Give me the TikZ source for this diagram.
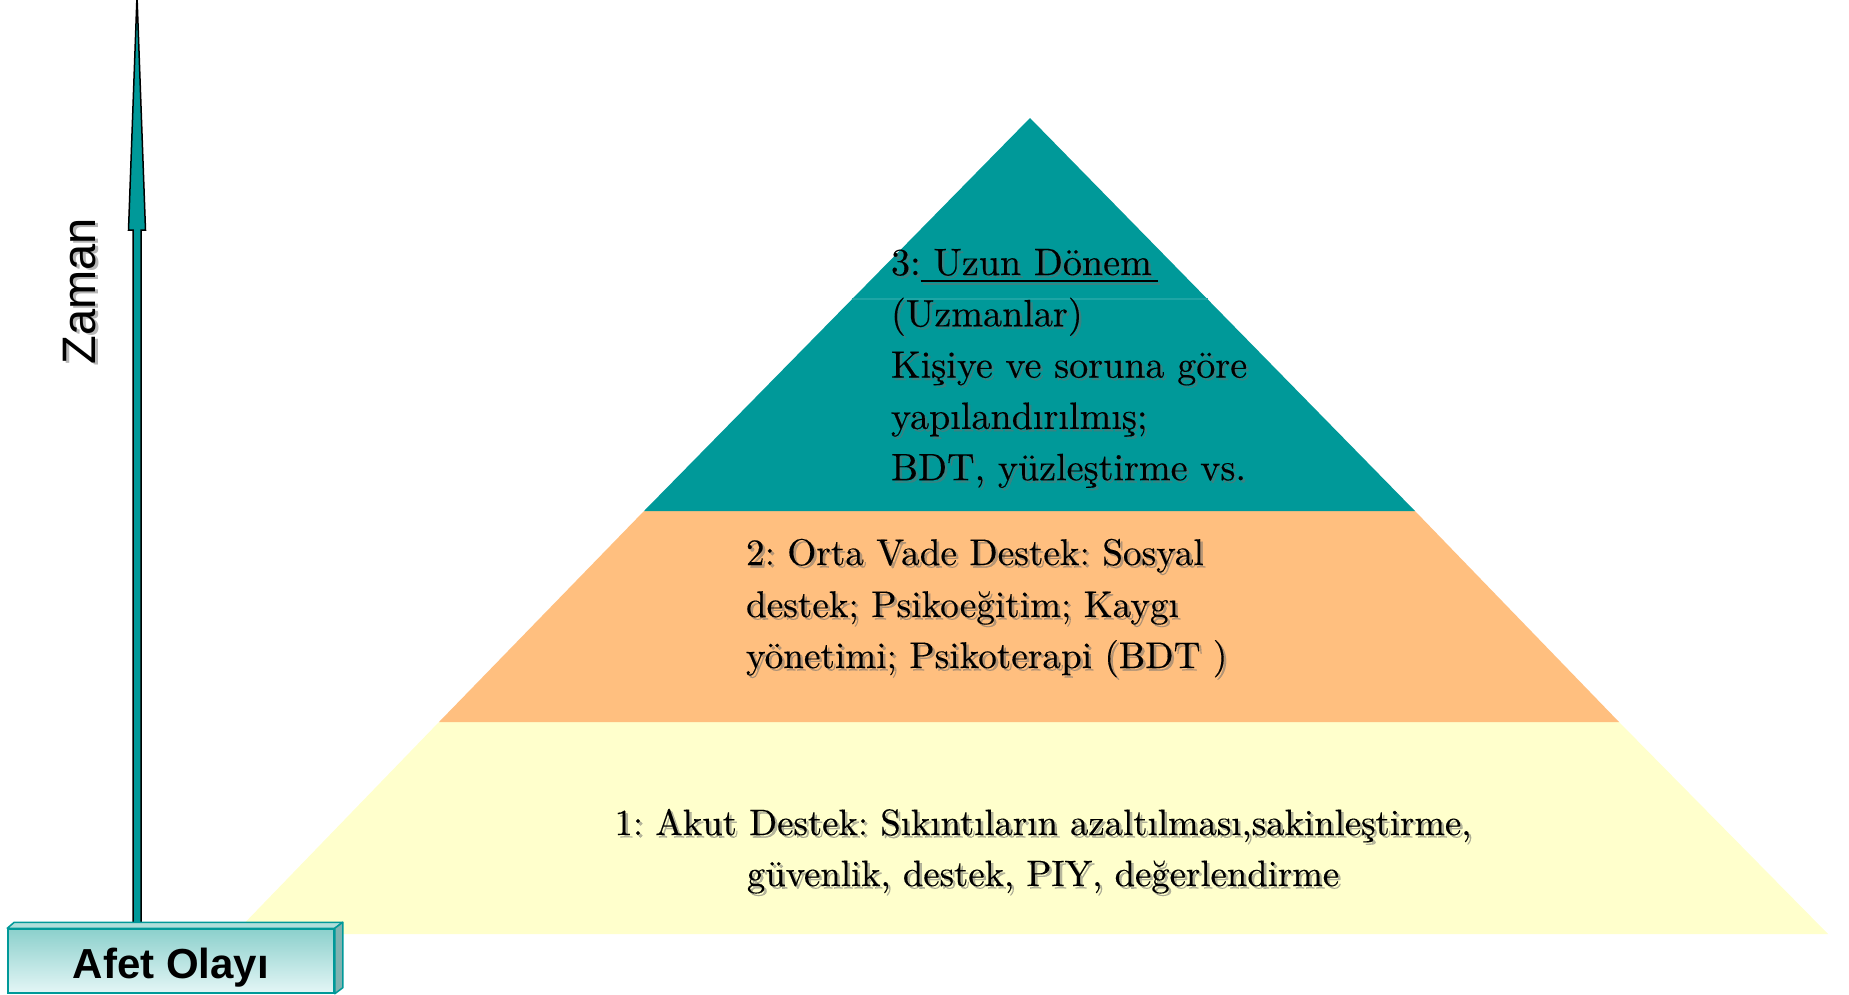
\documentclass[tikz,border=0pt]{standalone}
\usepackage{fontspec}
\newfontfamily\arialfont{Liberation Sans}
\newfontfamily\pyrfont{lmroman10-regular}[Extension=.otf, FakeBold=0.25]
\usetikzlibrary{calc}

\definecolor{tealc}{RGB}{0,153,153}
\definecolor{orangec}{RGB}{255,191,127}
\definecolor{yellowc}{RGB}{255,255,204}
\definecolor{seamc}{RGB}{30,165,165}
\definecolor{boxtop}{RGB}{140,208,204}
\definecolor{boxbot}{RGB}{228,246,246}
\definecolor{boxlid}{RGB}{175,222,218}
\definecolor{boxside}{RGB}{128,178,176}
\definecolor{shadowc}{RGB}{110,110,110}

\tikzset{
  txt/.style={inner sep=0pt, outer sep=0pt, text=black},
  txtshadow/.style={txt, text=shadowc, text opacity=0.5},
  toptext/.style={font=\pyrfont\frenchspacing\fontsize{38.1}{51}\selectfont},
  midtext/.style={font=\pyrfont\frenchspacing\fontsize{37.2}{51}\selectfont},
  lowtext/.style={font=\pyrfont\frenchspacing\fontsize{36.7}{51}\selectfont},
}

% text with a soft drop shadow: name, style+anchor, position, text
\newcommand\shtext[4]{%
  \node[txtshadow, #2] (#1-sh) at ([shift={(2.5pt,-2.5pt)}]#3) {#4};
  \node[txt, #2] (#1) at (#3) {#4};
}

\begin{document}
\begin{tikzpicture}[x=1pt, y=-1pt]
\useasboundingbox (0,0) rectangle (1849,994);
\fill[white] (0,0) rectangle (1849,994);

% pyramid bands
\fill[yellowc] (439,722) -- (1619,722) -- (1828,934) -- (234,934) -- cycle;
\fill[orangec] (644,511) -- (1415,511) -- (1619,722) -- (439,722) -- cycle;
\fill[tealc] (1030,118) -- (1415,511) -- (644,511) -- cycle;
\draw[seamc, line width=1.2pt] (852,299) -- (1208,299);

% top band text
\shtext{t3a}{toptext, anchor=base west}{891,275}{3:}
\shtext{t3b}{toptext, anchor=base west}{t3a.base east}{\ Uzun Dönem}
\draw[shadowc, opacity=0.5, line width=2pt]
  ([shift={(2.5pt,-8.5pt)}]t3b.base west) -- ([shift={(8.5pt,-8.5pt)}]t3b.base east);
\draw[black, line width=2pt]
  ([yshift=-6pt]t3b.base west) -- ([shift={(6pt,-6pt)}]t3b.base east);
\shtext{t3c}{toptext, anchor=base west}{891,326.3}{(Uzmanlar)}
\shtext{t3d}{toptext, anchor=base west}{891,377.6}{Kişiye ve soruna göre}
\shtext{t3e}{toptext, anchor=base west}{891,428.9}{yapılandırılmış;}
\shtext{t3f}{toptext, anchor=base west}{891,480.2}{BDT, yüzleştirme vs.}

% middle band text
\shtext{t2a}{midtext, anchor=base west}{746,565}{2: Orta Vade Destek: Sosyal}
\shtext{t2b}{midtext, anchor=base west}{746,617}{destek; Psikoeğitim; Kaygı}
\shtext{t2c}{midtext, anchor=base west}{746,668}{yönetimi; Psikoterapi (BDT )}

% bottom band text
\shtext{t1a}{lowtext, anchor=base}{1043,835}{1: Akut Destek: Sıkıntıların azaltılması,sakinleştirme,}
\shtext{t1b}{lowtext, anchor=base}{1043,886}{güvenlik, destek, PIY, değerlendirme}

% time axis label
\node[rotate=90, inner sep=0pt, text=shadowc, text opacity=0.5,
      font=\arialfont\fontsize{47}{56}\selectfont] (zaman-sh) at (82.5,293.5) {Zaman};
\node[rotate=90, inner sep=0pt,
      font=\arialfont\fontsize{47}{56}\selectfont] (zaman) at (80,291) {Zaman};

% time arrow
\coordinate (abase) at (137,925);
\coordinate (aneck) at (137,230);
\coordinate (atip) at (137,-4);
\draw[fill=tealc, line width=1.5pt, line join=miter]
  ($(abase)+(-4,0)$) -- ($(aneck)+(-4,0)$) -- ($(aneck)+(-8.5,0)$) -- (atip)
  -- ($(aneck)+(8.5,0)$) -- ($(aneck)+(4,0)$) -- ($(abase)+(4,0)$);

% event box
\node[draw=tealc, line width=1.5pt, minimum width=326pt, minimum height=64pt,
      inner sep=0pt, top color=boxtop, bottom color=boxbot] (afet) at (171,961) {};
\draw[tealc, line width=1.5pt, fill=boxlid, line join=round]
  (afet.north west) -- ++(7,-6) -- ($(afet.north east)+(8,-6)$) -- (afet.north east) -- cycle;
\draw[tealc, line width=1.5pt, fill=boxside, line join=round]
  (afet.north east) -- ($(afet.north east)+(8,-6)$) -- ($(afet.south east)+(8,-6)$)
  -- (afet.south east) -- cycle;
\node[inner sep=0pt, anchor=base, font=\arialfont\bfseries\fontsize{42}{50}\selectfont]
  (afetlbl) at ([yshift=-17pt]afet.center) {Afet Olayı};
\end{tikzpicture}
\end{document}
